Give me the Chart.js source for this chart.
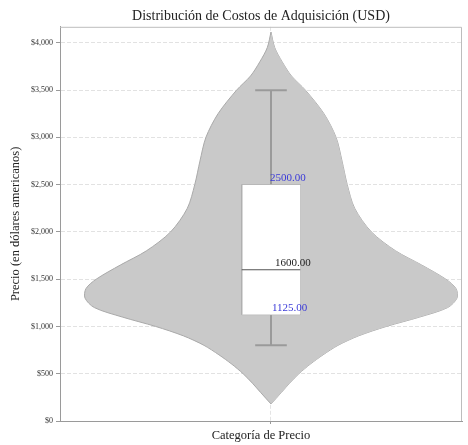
<!DOCTYPE html>
<html>
<head>
<meta charset="utf-8">
<script src="https://cdn.jsdelivr.net/npm/chart.js@4"></script>
<style>
  html, body { margin: 0; padding: 0; background: #ffffff; }
  #wrap { width: 468px; height: 445px; }
</style>
</head>
<body>
<div id="wrap"><canvas id="c" width="468" height="445"></canvas></div>
<script>
// Price levels (USD) along the violin and the relative density at each level
const priceLevels = [4115, 3950, 3800, 3650, 3500, 3250, 3000, 2750, 2500, 2250, 2000, 1800, 1650, 1500, 1400, 1300, 1200, 1100, 1000, 900, 800, 700, 600, 500, 400, 300, 180];
const density     = [0, 0.02, 0.06, 0.11, 0.185, 0.285, 0.35, 0.382, 0.41, 0.45, 0.54, 0.67, 0.81, 0.94, 0.995, 1.0, 0.95, 0.80, 0.62, 0.47, 0.36, 0.28, 0.21, 0.15, 0.10, 0.055, 0];

// Box plot summary
const q1 = 1125;
const median = 1600;
const q3 = 2500;
const whiskerLow = 800;
const whiskerHigh = 3500;

// Y axis tick values
const yTicks = [0, 500, 1000, 1500, 2000, 2500, 3000, 3500, 4000];

// Geometry / styling (category-axis units)
const VIOLIN_HALF = 0.4;
const BOX_HALF = 0.063;
const CAP_HALF = 0.034;
const SERIF = "'Liberation Serif', 'DejaVu Serif', serif";

const violinLeft  = priceLevels.map((p, i) => ({ x: -density[i] * VIOLIN_HALF, y: p }));
const violinRight = priceLevels.map((p, i) => ({ x:  density[i] * VIOLIN_HALF, y: p }));

const boxLeft  = [{ x: -BOX_HALF, y: q3 }, { x: -BOX_HALF, y: q1 }];
const boxRight = [{ x:  BOX_HALF, y: q3 }, { x:  BOX_HALF, y: q1 }];

const lineStyle = { fill: false, pointRadius: 0, tension: 0 };

// Frame around the plotting area
const frame = {
  id: 'frame',
  afterDraw(chart) {
    const { ctx, chartArea: a } = chart;
    ctx.save();
    ctx.strokeStyle = '#bdbdbd';
    ctx.lineWidth = 1;
    ctx.beginPath();
    ctx.moveTo(a.left, a.top + 0.5);
    ctx.lineTo(a.right - 0.5, a.top + 0.5);
    ctx.lineTo(a.right - 0.5, a.bottom);
    ctx.stroke();
    ctx.restore();
  }
};

// Value labels for the quartiles
const quartileLabels = {
  id: 'quartileLabels',
  afterDatasetsDraw(chart) {
    const { ctx, scales: { x, y } } = chart;
    const items = [
      { v: q3, text: q3.toFixed(2), color: '#3a3ad8', dx: -1 },
      { v: median, text: median.toFixed(2), color: '#222222', dx: 4 },
      { v: q1, text: q1.toFixed(2), color: '#3a3ad8', dx: 1 }
    ];
    ctx.save();
    ctx.font = '11px ' + SERIF;
    ctx.textAlign = 'left';
    ctx.textBaseline = 'bottom';
    items.forEach(it => {
      ctx.fillStyle = it.color;
      ctx.fillText(it.text, x.getPixelForValue(0) + it.dx, y.getPixelForValue(it.v) - 1);
    });
    ctx.restore();
  }
};

new Chart(document.getElementById('c'), {
  type: 'line',
  data: {
    datasets: [
      // violin body
      { data: violinLeft, borderColor: '#a9a9a9', borderWidth: 1, backgroundColor: '#c9c9c9',
        fill: '+1', pointRadius: 0, tension: 0.3, order: 5 },
      { data: violinRight, borderColor: '#a9a9a9', borderWidth: 1, ...lineStyle, tension: 0.3, order: 5 },
      // whiskers
      { data: [{ x: 0, y: whiskerHigh }, { x: 0, y: q3 }], borderColor: '#9a9a9a', borderWidth: 2, ...lineStyle, order: 4 },
      { data: [{ x: 0, y: q1 }, { x: 0, y: whiskerLow }], borderColor: '#9a9a9a', borderWidth: 2, ...lineStyle, order: 4 },
      { data: [{ x: -CAP_HALF, y: whiskerHigh }, { x: CAP_HALF, y: whiskerHigh }], borderColor: '#9a9a9a', borderWidth: 2, ...lineStyle, order: 4 },
      { data: [{ x: -CAP_HALF, y: whiskerLow }, { x: CAP_HALF, y: whiskerLow }], borderColor: '#9a9a9a', borderWidth: 2, ...lineStyle, order: 4 },
      // box
      { data: boxLeft, borderColor: '#b0b0b0', borderWidth: 1, backgroundColor: '#ffffff',
        fill: '+1', pointRadius: 0, tension: 0, order: 3 },
      { data: boxRight, borderColor: '#b0b0b0', borderWidth: 1, ...lineStyle, order: 3 },
      { data: [{ x: -BOX_HALF, y: q3 }, { x: BOX_HALF, y: q3 }], borderColor: '#b0b0b0', borderWidth: 1, ...lineStyle, order: 3 },
      { data: [{ x: -BOX_HALF, y: q1 }, { x: BOX_HALF, y: q1 }], borderColor: '#b0b0b0', borderWidth: 1, ...lineStyle, order: 3 },
      // median
      { data: [{ x: -BOX_HALF, y: median }, { x: BOX_HALF, y: median }], borderColor: '#555555', borderWidth: 1.2, ...lineStyle, order: 2 }
    ]
  },
  options: {
    indexAxis: 'y',
    responsive: false,
    animation: false,
    layout: { padding: { left: 0, right: 6, top: 0, bottom: 0 } },
    plugins: {
      legend: { display: false },
      tooltip: { enabled: false },
      title: {
        display: true,
        text: 'Distribución de Costos de Adquisición (USD)',
        fullSize: false,
        color: '#222222',
        font: { family: SERIF, size: 14, weight: 'normal' },
        padding: { top: 8, bottom: 2 }
      }
    },
    scales: {
      x: {
        type: 'linear',
        min: -0.4538,
        max: 0.4108,
        afterBuildTicks(scale) { scale.ticks = [{ value: 0 }]; },
        afterFit(scale) { scale.height = 24; },
        ticks: { callback: () => '', font: { size: 1 }, padding: 0 },
        grid: { color: '#e4e4e4', tickColor: '#9a9a9a', tickLength: 3, drawOnChartArea: true, lineWidth: 1 },
        border: { color: '#9a9a9a', width: 1, dash: [4, 2] },
        title: {
          display: true,
          text: 'Categoría de Precio',
          color: '#222222',
          font: { family: SERIF, size: 12.5 },
          padding: { top: 0, bottom: 1.5 }
        }
      },
      y: {
        type: 'linear',
        min: 0,
        max: 4170,
        afterBuildTicks(scale) { scale.ticks = yTicks.map(v => ({ value: v })); },
        afterFit(scale) { scale.width = 60; },
        ticks: {
          color: '#333333',
          font: { family: SERIF, size: 8 },
          padding: 3,
          callback: v => '$' + Number(v).toLocaleString('en-US')
        },
        grid: { color: '#e2e2e2', tickColor: '#9a9a9a', tickLength: 4, lineWidth: 1 },
        border: { color: '#9a9a9a', width: 1, dash: [4, 2] },
        title: {
          display: true,
          text: 'Precio (en dólares americanos)',
          color: '#222222',
          font: { family: SERIF, size: 12.5 },
          padding: { top: 8.5, bottom: 0 }
        }
      }
    }
  },
  plugins: [frame, quartileLabels]
});
</script>
</body>
</html>
